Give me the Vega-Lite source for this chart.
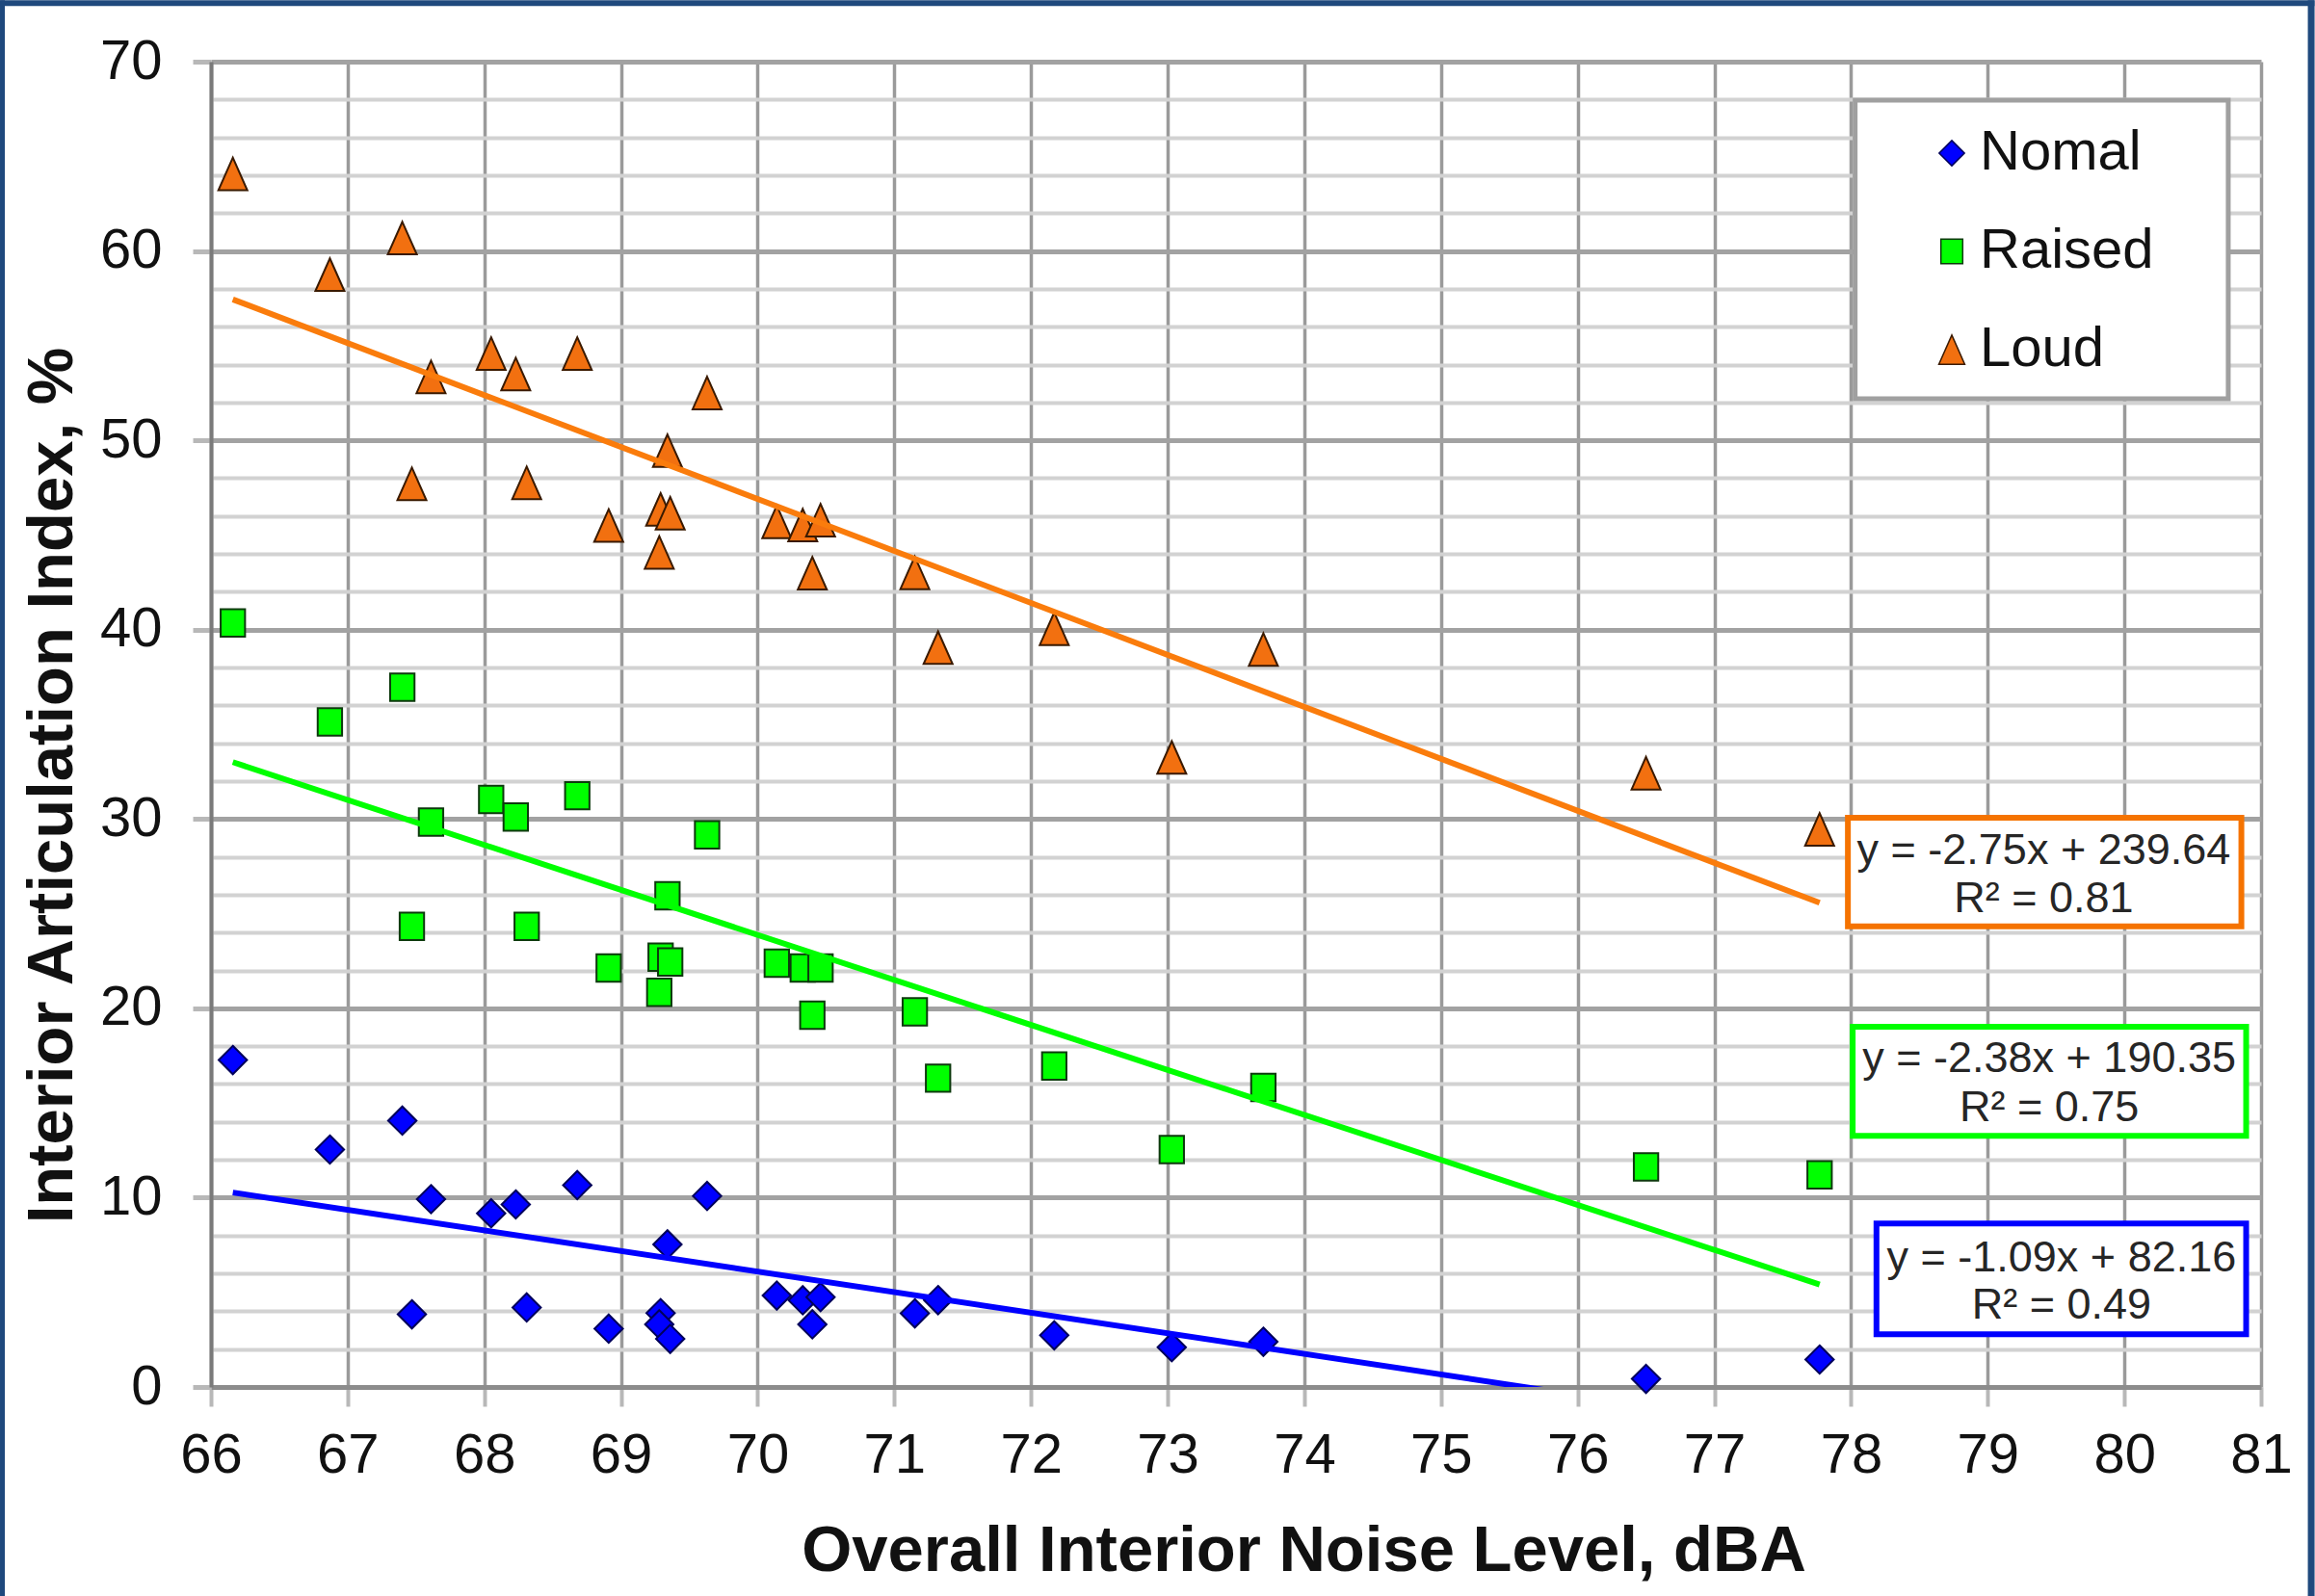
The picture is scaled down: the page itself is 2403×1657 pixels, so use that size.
{
  "$schema": "https://vega.github.io/schema/vega-lite/v6.json",
  "width": 2128,
  "height": 1376,
  "autosize": {"type": "none"},
  "padding": {"left": 219, "top": 64, "right": 56, "bottom": 217},
  "background": "white",
  "config": {"view": {"stroke": null}, "font": "Liberation Sans"},
  "data": {
    "values": [
      {"series": "Nomal", "noise": 66.16, "AI": 17.27},
      {"series": "Nomal", "noise": 66.87, "AI": 12.54},
      {"series": "Nomal", "noise": 67.40, "AI": 14.07},
      {"series": "Nomal", "noise": 67.61, "AI": 9.92},
      {"series": "Nomal", "noise": 67.47, "AI": 3.84},
      {"series": "Nomal", "noise": 68.05, "AI": 9.17},
      {"series": "Nomal", "noise": 68.23, "AI": 9.64},
      {"series": "Nomal", "noise": 68.68, "AI": 10.66},
      {"series": "Nomal", "noise": 68.31, "AI": 4.20},
      {"series": "Nomal", "noise": 68.91, "AI": 3.08},
      {"series": "Nomal", "noise": 69.29, "AI": 3.90},
      {"series": "Nomal", "noise": 69.28, "AI": 3.31},
      {"series": "Nomal", "noise": 69.34, "AI": 7.53},
      {"series": "Nomal", "noise": 69.36, "AI": 2.54},
      {"series": "Nomal", "noise": 69.63, "AI": 10.09},
      {"series": "Nomal", "noise": 70.14, "AI": 4.83},
      {"series": "Nomal", "noise": 70.33, "AI": 4.58},
      {"series": "Nomal", "noise": 70.46, "AI": 4.75},
      {"series": "Nomal", "noise": 70.40, "AI": 3.31},
      {"series": "Nomal", "noise": 71.15, "AI": 3.89},
      {"series": "Nomal", "noise": 71.32, "AI": 4.59},
      {"series": "Nomal", "noise": 72.17, "AI": 2.73},
      {"series": "Nomal", "noise": 73.03, "AI": 2.10},
      {"series": "Nomal", "noise": 73.70, "AI": 2.39},
      {"series": "Nomal", "noise": 76.50, "AI": 0.43},
      {"series": "Nomal", "noise": 77.77, "AI": 1.45},
      {"series": "Raised", "noise": 66.16, "AI": 40.35},
      {"series": "Raised", "noise": 66.87, "AI": 35.13},
      {"series": "Raised", "noise": 67.40, "AI": 36.96},
      {"series": "Raised", "noise": 67.61, "AI": 29.84},
      {"series": "Raised", "noise": 67.47, "AI": 24.33},
      {"series": "Raised", "noise": 68.05, "AI": 31.03},
      {"series": "Raised", "noise": 68.23, "AI": 30.10},
      {"series": "Raised", "noise": 68.68, "AI": 31.23},
      {"series": "Raised", "noise": 68.31, "AI": 24.33},
      {"series": "Raised", "noise": 68.91, "AI": 22.13},
      {"series": "Raised", "noise": 69.29, "AI": 22.70},
      {"series": "Raised", "noise": 69.28, "AI": 20.85},
      {"series": "Raised", "noise": 69.34, "AI": 25.94},
      {"series": "Raised", "noise": 69.36, "AI": 22.45},
      {"series": "Raised", "noise": 69.63, "AI": 29.16},
      {"series": "Raised", "noise": 70.14, "AI": 22.38},
      {"series": "Raised", "noise": 70.33, "AI": 22.13},
      {"series": "Raised", "noise": 70.46, "AI": 22.13},
      {"series": "Raised", "noise": 70.40, "AI": 19.64},
      {"series": "Raised", "noise": 71.15, "AI": 19.82},
      {"series": "Raised", "noise": 71.32, "AI": 16.31},
      {"series": "Raised", "noise": 72.17, "AI": 16.95},
      {"series": "Raised", "noise": 73.03, "AI": 12.54},
      {"series": "Raised", "noise": 73.70, "AI": 15.82},
      {"series": "Raised", "noise": 76.50, "AI": 11.62},
      {"series": "Raised", "noise": 77.77, "AI": 11.20},
      {"series": "Loud", "noise": 66.16, "AI": 64.07},
      {"series": "Loud", "noise": 66.87, "AI": 58.75},
      {"series": "Loud", "noise": 67.40, "AI": 60.68},
      {"series": "Loud", "noise": 67.61, "AI": 53.35},
      {"series": "Loud", "noise": 67.47, "AI": 47.70},
      {"series": "Loud", "noise": 68.05, "AI": 54.58},
      {"series": "Loud", "noise": 68.23, "AI": 53.50},
      {"series": "Loud", "noise": 68.68, "AI": 54.58},
      {"series": "Loud", "noise": 68.31, "AI": 47.75},
      {"series": "Loud", "noise": 68.91, "AI": 45.50},
      {"series": "Loud", "noise": 69.29, "AI": 46.35},
      {"series": "Loud", "noise": 69.28, "AI": 44.08},
      {"series": "Loud", "noise": 69.34, "AI": 49.45},
      {"series": "Loud", "noise": 69.36, "AI": 46.15},
      {"series": "Loud", "noise": 69.63, "AI": 52.50},
      {"series": "Loud", "noise": 70.14, "AI": 45.69},
      {"series": "Loud", "noise": 70.33, "AI": 45.52},
      {"series": "Loud", "noise": 70.46, "AI": 45.78},
      {"series": "Loud", "noise": 70.40, "AI": 42.98},
      {"series": "Loud", "noise": 71.15, "AI": 43.00},
      {"series": "Loud", "noise": 71.32, "AI": 39.05},
      {"series": "Loud", "noise": 72.17, "AI": 40.05},
      {"series": "Loud", "noise": 73.03, "AI": 33.25},
      {"series": "Loud", "noise": 73.70, "AI": 38.95},
      {"series": "Loud", "noise": 76.50, "AI": 32.42},
      {"series": "Loud", "noise": 77.77, "AI": 29.45}
    ]
  },
  "layer": [
    {
      "mark": {"type": "point", "filled": true, "opacity": 1, "size": 1000, "strokeWidth": 2},
      "encoding": {
        "x": {
          "field": "noise", "type": "quantitative",
          "scale": {"domain": [66, 81], "nice": false, "zero": false},
          "axis": {
            "values": [66, 67, 68, 69, 70, 71, 72, 73, 74, 75, 76, 77, 78, 79, 80, 81],
            "tickCount": 100, "format": "d",
            "grid": true, "gridColor": "#9a9a9a", "gridWidth": 3.5,
            "domainColor": "#8c8c8c", "domainWidth": 5,
            "tickColor": "#b8b8b8", "tickWidth": 4, "tickSize": 20,
            "labelFont": "Liberation Sans", "labelFontSize": 58, "labelColor": "#111111",
            "labelPadding": 22, "labelFlush": false, "labelOverlap": false,
            "title": "Overall Interior Noise Level, dBA",
            "titleFont": "Liberation Sans", "titleFontSize": 67, "titleFontWeight": "bold", "titleColor": "#111111",
            "titleX": 1134, "titleY": 190, "titleBaseline": "alphabetic", "titleAlign": "center"
          }
        },
        "y": {
          "field": "AI", "type": "quantitative",
          "scale": {"domain": [0, 70], "nice": false, "zero": false},
          "axis": {
            "values": [0, 2, 4, 6, 8, 10, 12, 14, 16, 18, 20, 22, 24, 26, 28, 30, 32, 34, 36, 38, 40, 42, 44, 46, 48, 50, 52, 54, 56, 58, 60, 62, 64, 66, 68, 70],
            "tickCount": 100, "format": "d",
            "labelExpr": "datum.value % 10 === 0 ? datum.label : ''",
            "grid": true,
            "gridColor": {"condition": {"test": "datum.value % 10 === 0", "value": "#a2a2a2"}, "value": "#d2d2d2"},
            "gridWidth": {"condition": {"test": "datum.value % 10 === 0", "value": 5}, "value": 4},
            "tickColor": {"condition": {"test": "datum.value % 10 === 0", "value": "#b8b8b8"}, "value": "transparent"},
            "tickWidth": 5, "tickSize": 19,
            "domainColor": "#7a7a7a", "domainWidth": 4,
            "labelFont": "Liberation Sans", "labelFontSize": 58, "labelColor": "#111111",
            "labelPadding": 32, "labelOverlap": false,
            "title": "Interior Articulation Index, %",
            "titleFont": "Liberation Sans", "titleFontSize": 67, "titleFontWeight": "bold", "titleColor": "#111111",
            "titleX": -145, "titleY": 751, "titleAngle": -90, "titleBaseline": "alphabetic", "titleAlign": "center"
          }
        },
        "fill": {
          "field": "series", "type": "nominal",
          "scale": {"domain": ["Nomal", "Raised", "Loud"], "range": ["#0000ff", "#00ff00", "#f27010"]},
          "legend": {
            "title": null, "orient": "none", "legendX": 1778, "legendY": 66, "direction": "vertical",
            "padding": 0, "rowPadding": 44, "labelOffset": 0, "symbolSize": 800, "labelLimit": 600,
            "labelFont": "Liberation Sans", "labelFontSize": 58, "labelColor": "#111111"
          }
        },
        "shape": {
          "field": "series", "type": "nominal",
          "scale": {"domain": ["Nomal", "Raised", "Loud"], "range": ["M0,-0.93L0.93,0L0,0.93L-0.93,0Z", "M-0.8,-0.9L0.8,-0.9L0.8,0.9L-0.8,0.9Z", "M0,-1.07L0.95,1.07L-0.95,1.07Z"]},
          "legend": {
            "title": null, "orient": "none", "legendX": 1778, "legendY": 66, "direction": "vertical",
            "padding": 0, "rowPadding": 44, "labelOffset": 0, "symbolSize": 800, "labelLimit": 600,
            "labelFont": "Liberation Sans", "labelFontSize": 58, "labelColor": "#111111"
          }
        },
        "stroke": {
          "field": "series", "type": "nominal",
          "scale": {"domain": ["Nomal", "Raised", "Loud"], "range": ["#00005a", "#0d3a0d", "#3a1a00"]},
          "legend": null
        }
      }
    },
    {
      "transform": [{"regression": "AI", "on": "noise", "groupby": ["series"]}],
      "mark": {"type": "line", "strokeWidth": 6, "clip": true},
      "encoding": {
        "x": {"field": "noise", "type": "quantitative", "scale": {"domain": [66, 81], "nice": false, "zero": false}},
        "y": {"field": "AI", "type": "quantitative", "scale": {"domain": [0, 70], "nice": false, "zero": false}},
        "color": {
          "field": "series", "type": "nominal",
          "scale": {"domain": ["Nomal", "Raised", "Loud"], "range": ["#0000ff", "#00ff00", "#fa7c0c"]},
          "legend": null
        }
      }
    },
    {
      "data": {"values": [{}]},
      "mark": {"type": "rect", "fill": "white", "stroke": "#a0a0a0", "strokeWidth": 5},
      "encoding": {
        "x": {"datum": 78.03, "type": "quantitative"},
        "x2": {"datum": 80.76},
        "y": {"datum": 67.96, "type": "quantitative"},
        "y2": {"datum": 52.19}
      }
    },
    {
      "data": {"values": [{}]},
      "mark": {"type": "rect", "fill": "white", "stroke": "#f57300", "strokeWidth": 6},
      "encoding": {
        "x": {"datum": 77.977, "type": "quantitative"},
        "x2": {"datum": 80.856},
        "y": {"datum": 30.06, "type": "quantitative"},
        "y2": {"datum": 24.33}
      }
    },
    {
      "data": {"values": [{}]},
      "mark": {"type": "rect", "fill": "white", "stroke": "#00ff00", "strokeWidth": 6},
      "encoding": {
        "x": {"datum": 78.012, "type": "quantitative"},
        "x2": {"datum": 80.891},
        "y": {"datum": 19.03, "type": "quantitative"},
        "y2": {"datum": 13.26}
      }
    },
    {
      "data": {"values": [{}]},
      "mark": {"type": "rect", "fill": "white", "stroke": "#0000ff", "strokeWidth": 6},
      "encoding": {
        "x": {"datum": 78.186, "type": "quantitative"},
        "x2": {"datum": 80.891},
        "y": {"datum": 8.64, "type": "quantitative"},
        "y2": {"datum": 2.78}
      }
    },
    {
      "data": {"values": [{}]},
      "mark": {"type": "text", "text": ["y = -2.75x + 239.64", "R² = 0.81"], "font": "Liberation Sans", "fontSize": 45, "lineHeight": 50, "align": "center", "baseline": "alphabetic", "fill": "#262626"},
      "encoding": {
        "x": {"datum": 79.41, "type": "quantitative"},
        "y": {"datum": 27.62, "type": "quantitative"}
      }
    },
    {
      "data": {"values": [{}]},
      "mark": {"type": "text", "text": ["y = -2.38x + 190.35", "R² = 0.75"], "font": "Liberation Sans", "fontSize": 45, "lineHeight": 51, "align": "center", "baseline": "alphabetic", "fill": "#262626"},
      "encoding": {
        "x": {"datum": 79.45, "type": "quantitative"},
        "y": {"datum": 16.63, "type": "quantitative"}
      }
    },
    {
      "data": {"values": [{}]},
      "mark": {"type": "text", "text": ["y = -1.09x + 82.16", "R² = 0.49"], "font": "Liberation Sans", "fontSize": 45, "lineHeight": 49, "align": "center", "baseline": "alphabetic", "fill": "#262626"},
      "encoding": {
        "x": {"datum": 79.54, "type": "quantitative"},
        "y": {"datum": 6.10, "type": "quantitative"}
      }
    },
    {
      "data": {"values": [{}]},
      "mark": {"type": "rule", "stroke": "#1f497d", "strokeWidth": 6},
      "encoding": {
        "x": {"datum": 64.457, "type": "quantitative"},
        "x2": {"datum": 81.391},
        "y": {"datum": 73.09, "type": "quantitative"}
      }
    },
    {
      "data": {"values": [{}]},
      "mark": {"type": "rule", "stroke": "#1f497d", "strokeWidth": 5},
      "encoding": {
        "x": {"datum": 64.474, "type": "quantitative"},
        "y": {"datum": 73.245, "type": "quantitative"},
        "y2": {"datum": -11.04}
      }
    },
    {
      "data": {"values": [{}]},
      "mark": {"type": "rule", "stroke": "#1f497d", "strokeWidth": 7},
      "encoding": {
        "x": {"datum": 81.367, "type": "quantitative"},
        "y": {"datum": 73.245, "type": "quantitative"},
        "y2": {"datum": -11.04}
      }
    }
  ]
}
